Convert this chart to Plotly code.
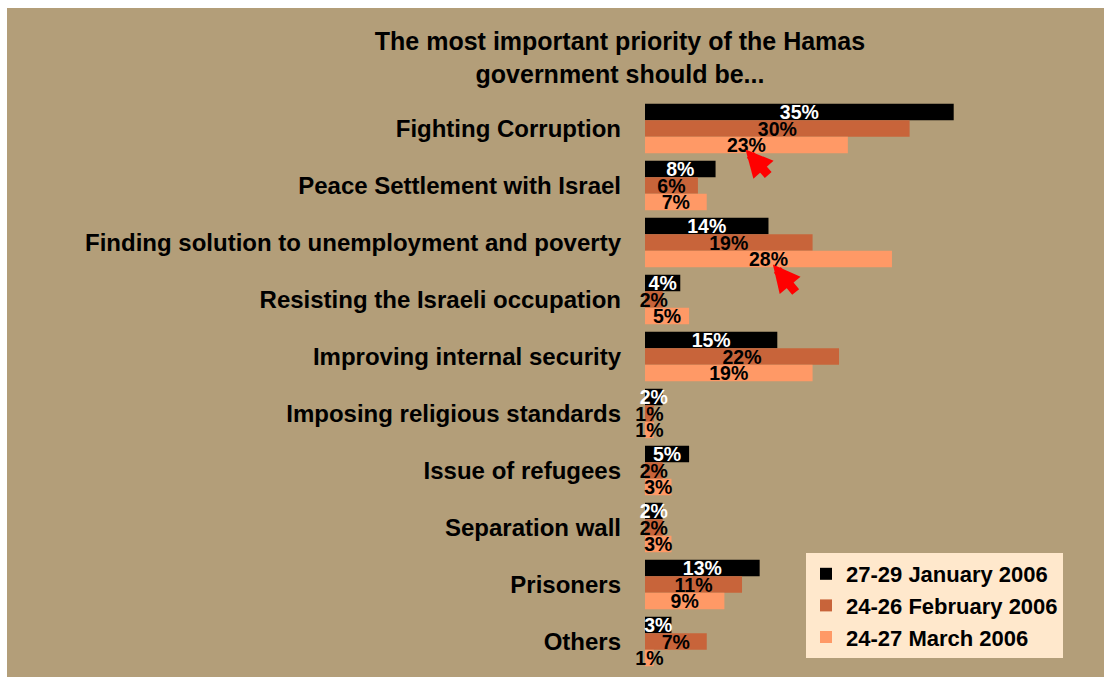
import plotly.graph_objects as go

categories = [
    "Fighting Corruption",
    "Peace Settlement with Israel",
    "Finding solution to unemployment and poverty",
    "Resisting the Israeli occupation",
    "Improving internal security",
    "Imposing religious standards",
    "Issue of refugees",
    "Separation wall",
    "Prisoners",
    "Others",
]
series_names = ["27-29 January 2006", "24-26 February 2006", "24-27 March 2006"]
jan_values = [35, 8, 14, 4, 15, 2, 5, 2, 13, 3]
feb_values = [30, 6, 19, 2, 22, 1, 2, 2, 11, 7]
mar_values = [23, 7, 28, 5, 19, 1, 3, 3, 9, 1]
title_text = "The most important priority of the Hamas<br>government should be..."

colors = ["#000000", "#C8643A", "#FF9966"]
text_colors = ["#FFFFFF", "#000000", "#000000"]
TAN = "#B39E79"
FONT = "Liberation Sans, Arial, sans-serif"

W, H = 1104, 677
ML, MR, MT, MB = 645, 18, 100, 7
PW = W - ML - MR
PH = H - MT - MB
XMAX = 50

fig = go.Figure()
for name, vals, c, tc in zip(series_names, [jan_values, feb_values, mar_values], colors, text_colors):
    fig.add_trace(go.Bar(
        y=categories, x=vals, name=name, orientation="h",
        marker=dict(color=c, line=dict(width=0)),
        texttemplate="%{x}%", textposition="inside", insidetextanchor="middle",
        textangle=0, constraintext="none", cliponaxis=False,
        textfont=dict(family=FONT, size=19.5, color=tc, weight="bold"),
        hoverinfo="skip",
    ))

def px_to_paper_x(px):
    return (px - ML) / PW

def px_to_paper_y(py):
    return (H - MB - py) / PH

fig.add_shape(type="rect", xref="paper", yref="paper",
              x0=px_to_paper_x(7), x1=px_to_paper_x(W + 2),
              y0=px_to_paper_y(H + 2), y1=px_to_paper_y(8),
              fillcolor=TAN, line=dict(width=0), layer="below")

# red arrows pointing at the March bars
fig.add_annotation(x=11.4, y=categories[0], yshift=-21, text="", showarrow=True,
                   ax=24, ay=27, arrowcolor="#FF0000", arrowwidth=9,
                   arrowhead=2, arrowsize=0.6, standoff=0)
fig.add_annotation(x=14.5, y=categories[2], yshift=-22, text="", showarrow=True,
                   ax=24, ay=29, arrowcolor="#FF0000", arrowwidth=9,
                   arrowhead=2, arrowsize=0.6, standoff=0)

fig.update_layout(
    width=W, height=H,
    margin=dict(l=ML, r=MR, t=MT, b=MB, autoexpand=False),
    paper_bgcolor="#FFFFFF", plot_bgcolor="rgba(0,0,0,0)",
    barmode="group", bargap=0.132, bargroupgap=0,
    title=dict(text=title_text, xref="container", yref="container",
               x=620 / W, xanchor="center", y=1 - 50 / H, yanchor="top",
               font=dict(family=FONT, size=25, color="#000000", weight="bold")),
    xaxis=dict(range=[0, XMAX], visible=False, fixedrange=True),
    yaxis=dict(range=[len(categories) - 0.5, -0.5], autorange=False,
               showgrid=False, showline=False, zeroline=False,
               ticks="", ticklabelstandoff=23,
               tickfont=dict(family=FONT, size=24, color="#000000", weight="bold")),
    legend=dict(x=px_to_paper_x(806), y=px_to_paper_y(553), xanchor="left", yanchor="top",
                bgcolor="#FFE8CC", borderwidth=0,
                font=dict(family=FONT, size=22, color="#000000", weight="bold"),
                traceorder="normal", itemclick=False),
    showlegend=True,
)

fig.write_html("out.html")
